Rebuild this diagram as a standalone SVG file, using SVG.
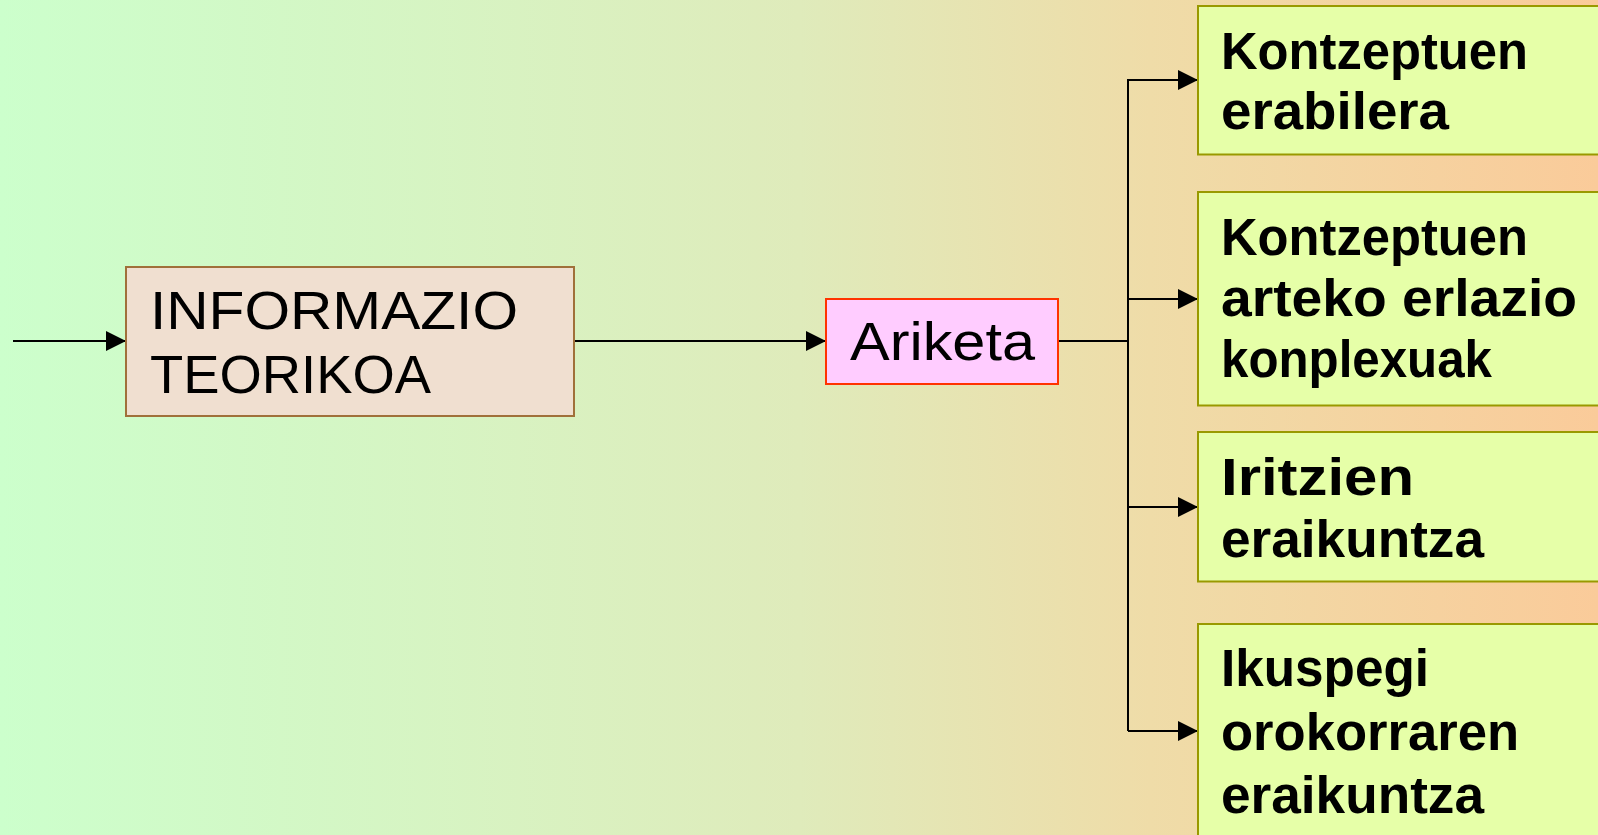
<svg xmlns="http://www.w3.org/2000/svg" width="1598" height="835" viewBox="0 0 1598 835">
<defs>
<linearGradient id="bg" x1="0" y1="0" x2="1" y2="0">
<stop offset="0" stop-color="#CCFFCC"/>
<stop offset="0.5" stop-color="#DFEBBB"/>
<stop offset="0.72" stop-color="#EFDCA8"/>
<stop offset="1" stop-color="#FACB9A"/>
</linearGradient>
<marker id="ah" markerUnits="userSpaceOnUse" markerWidth="22" markerHeight="22" viewBox="0 0 22 22" refX="21" refY="11" orient="auto">
<path d="M1,1 L21,11 L1,21 Z" fill="#000"/>
</marker>
<style>
.lbl{font-family:"Comic Sans MS","Liberation Sans",sans-serif;fill:#000}
.big{font-size:54px}
.bold{font-size:51px;font-weight:bold}
.out{fill:#E6FFA8;stroke:#999900;stroke-width:2}
.conn{stroke:#000;stroke-width:2;fill:none}
</style>
</defs>
<rect x="0" y="0" width="1598" height="835" fill="url(#bg)"/>
<g id="connectors">
<line class="conn" x1="13" y1="341" x2="126" y2="341" marker-end="url(#ah)"/>
<line class="conn" x1="574" y1="341" x2="826" y2="341" marker-end="url(#ah)"/>
<polyline class="conn" points="1058,341 1128,341"/>
<line class="conn" x1="1128" y1="79" x2="1128" y2="731"/>
<line class="conn" x1="1128" y1="80" x2="1198" y2="80" marker-end="url(#ah)"/>
<line class="conn" x1="1128" y1="299" x2="1198" y2="299" marker-end="url(#ah)"/>
<line class="conn" x1="1128" y1="507" x2="1198" y2="507" marker-end="url(#ah)"/>
<line class="conn" x1="1128" y1="731" x2="1198" y2="731" marker-end="url(#ah)"/>
</g>
<g id="informazio">
<rect x="126" y="267" width="448" height="149" fill="#F0DFD0" stroke="#A0703A" stroke-width="2"/>
<text class="lbl big" x="150" y="329" textLength="368" lengthAdjust="spacingAndGlyphs">INFORMAZIO</text>
<text class="lbl big" x="150" y="393" textLength="281" lengthAdjust="spacingAndGlyphs">TEORIKOA</text>
</g>
<g id="ariketa">
<rect x="826" y="299" width="232" height="85" fill="#FFCCFF" stroke="#FF3300" stroke-width="2"/>
<text class="lbl big" x="850" y="360" textLength="185" lengthAdjust="spacingAndGlyphs">Ariketa</text>
</g>
<g id="box1">
<rect class="out" x="1198" y="6" width="420" height="148.5"/>
<text class="lbl bold" x="1221" y="69" textLength="307" lengthAdjust="spacingAndGlyphs">Kontzeptuen</text>
<text class="lbl bold" x="1221" y="129" textLength="228" lengthAdjust="spacingAndGlyphs">erabilera</text>
</g>
<g id="box2">
<rect class="out" x="1198" y="192" width="420" height="213.5"/>
<text class="lbl bold" x="1221" y="255" textLength="307" lengthAdjust="spacingAndGlyphs">Kontzeptuen</text>
<text class="lbl bold" x="1221" y="316" textLength="356" lengthAdjust="spacingAndGlyphs">arteko erlazio</text>
<text class="lbl bold" x="1221" y="377" textLength="271" lengthAdjust="spacingAndGlyphs">konplexuak</text>
</g>
<g id="box3">
<rect class="out" x="1198" y="432" width="420" height="149.5"/>
<text class="lbl bold" x="1221" y="495" textLength="193" lengthAdjust="spacingAndGlyphs">Iritzien</text>
<text class="lbl bold" x="1221" y="557" textLength="263" lengthAdjust="spacingAndGlyphs">eraikuntza</text>
</g>
<g id="box4">
<rect class="out" x="1198" y="624" width="420" height="230"/>
<text class="lbl bold" x="1221" y="686" textLength="208" lengthAdjust="spacingAndGlyphs">Ikuspegi</text>
<text class="lbl bold" x="1221" y="750" textLength="298" lengthAdjust="spacingAndGlyphs">orokorraren</text>
<text class="lbl bold" x="1221" y="813" textLength="263" lengthAdjust="spacingAndGlyphs">eraikuntza</text>
</g>
</svg>
